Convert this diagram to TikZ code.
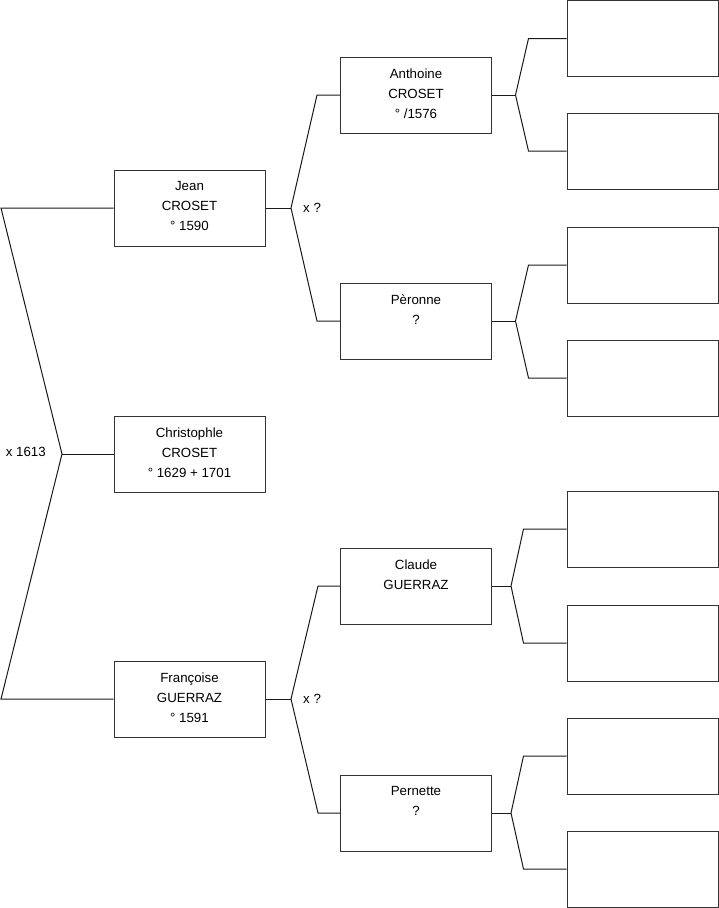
\documentclass[tikz,border=0pt]{standalone}
\usepackage{fontspec}
\setmainfont{Liberation Sans}
\usetikzlibrary{positioning}

\begin{document}
\begin{tikzpicture}[
            x=1pt, y=-1pt,
            person/.style={draw=black!80, line width=1pt, minimum width=151pt, minimum height=76pt, inner sep=0pt},
            txt/.style={align=center, inner sep=0pt, font=\fontsize{13.3}{20}\selectfont},
            link/.style={draw=black!90, line width=1pt},
            marr/.style={inner sep=0pt, font=\fontsize{13.3}{15}\selectfont}
        ]
        \useasboundingbox (0,0) rectangle (719,908);

        % 1. X-coordinates of the three generations
        \def\Gone{189.5}
        \def\Gtwo{416}
        \def\Gthree{642.5}

        % 2. Generation 1
        \node[person] (jean) at (\Gone, 208) {};
        \node[person] (christophle) at (\Gone, 454) {};
        \node[person] (francoise) at (\Gone, 699) {};

        \node[txt, below=12pt of jean.north] (jean-t) {Jean\\CROSET\\° 1590};
        \node[txt, below=12pt of christophle.north] (christophle-t) {Christophle\\CROSET\\° 1629 + 1701};
        \node[txt, below=12pt of francoise.north] (francoise-t) {Françoise\\GUERRAZ\\° 1591};

        % 3. Generation 2
        \node[person] (anthoine) at (\Gtwo, 95) {};
        \node[person] (peronne) at (\Gtwo, 321) {};
        \node[person] (claude) at (\Gtwo, 586) {};
        \node[person] (pernette) at (\Gtwo, 813) {};

        \node[txt, below=12pt of anthoine.north] (anthoine-t) {Anthoine\\CROSET\\° /1576};
        \node[txt, below=12pt of peronne.north] (peronne-t) {Pèronne\\?};
        \node[txt, below=12pt of claude.north] (claude-t) {Claude\\GUERRAZ};
        \node[txt, below=12pt of pernette.north] (pernette-t) {Pernette\\?};

        % 4. Generation 3 (empty boxes)
        \node[person] (anthoine-p) at (\Gthree, 38.5) {};
        \node[person] (anthoine-m) at (\Gthree, 151) {};
        \node[person] (peronne-p) at (\Gthree, 265) {};
        \node[person] (peronne-m) at (\Gthree, 378) {};
        \node[person] (claude-p) at (\Gthree, 529) {};
        \node[person] (claude-m) at (\Gthree, 643) {};
        \node[person] (pernette-p) at (\Gthree, 756) {};
        \node[person] (pernette-m) at (\Gthree, 869) {};

        % --- Parents of Christophle ---
        \coordinate (c-j) at (62, 454);
        \coordinate (c-up) at (1, 208);
        \coordinate (c-down) at (1, 699);
        \draw[link] (jean.west) -- (c-up) -- (c-j) -- (c-down) -- (francoise.west);
        \draw[link] (c-j) -- (christophle.west);
        \node[marr, anchor=east] (c-x) at ([xshift=-16pt, yshift=2pt]c-j) {x 1613};

        % --- Parents of Jean ---
        \coordinate (j-j) at (291, 208);
        \draw[link] (jean.east) -- (j-j);
        \draw[link] (j-j) -- ([xshift=-23pt]anthoine.west) -- (anthoine.west);
        \draw[link] (j-j) -- ([xshift=-23pt]peronne.west) -- (peronne.west);
        \node[marr, anchor=west] (j-x) at ([xshift=12pt]j-j) {x ?};

        % --- Parents of Francoise ---
        \coordinate (f-j) at (291, 699);
        \draw[link] (francoise.east) -- (f-j);
        \draw[link] (f-j) -- ([xshift=-22pt]claude.west) -- (claude.west);
        \draw[link] (f-j) -- ([xshift=-22pt]pernette.west) -- (pernette.west);
        \node[marr, anchor=west] (f-x) at ([xshift=12pt]f-j) {x ?};

        % --- Generation 2 to 3 ---
        \coordinate (a-j) at (515.5, 95);
        \draw[link] (anthoine.east) -- (a-j);
        \draw[link] (a-j) -- ([xshift=-38pt]anthoine-p.west) -- (anthoine-p.west);
        \draw[link] (a-j) -- ([xshift=-38pt]anthoine-m.west) -- (anthoine-m.west);

        \coordinate (p-j) at (515.5, 321);
        \draw[link] (peronne.east) -- (p-j);
        \draw[link] (p-j) -- ([xshift=-38pt]peronne-p.west) -- (peronne-p.west);
        \draw[link] (p-j) -- ([xshift=-38pt]peronne-m.west) -- (peronne-m.west);

        \coordinate (cl-j) at (511, 586);
        \draw[link] (claude.east) -- (cl-j);
        \draw[link] (cl-j) -- ([xshift=-43pt]claude-p.west) -- (claude-p.west);
        \draw[link] (cl-j) -- ([xshift=-43pt]claude-m.west) -- (claude-m.west);

        \coordinate (pe-j) at (511, 813);
        \draw[link] (pernette.east) -- (pe-j);
        \draw[link] (pe-j) -- ([xshift=-43pt]pernette-p.west) -- (pernette-p.west);
        \draw[link] (pe-j) -- ([xshift=-43pt]pernette-m.west) -- (pernette-m.west);

        \end{tikzpicture}
\end{document}
